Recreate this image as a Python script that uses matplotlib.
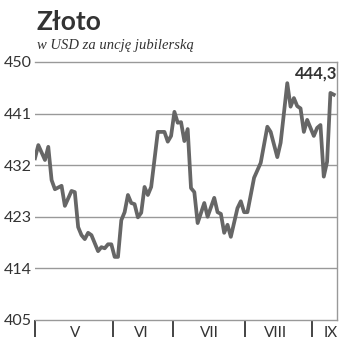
import matplotlib
matplotlib.use("Agg")
import matplotlib.pyplot as plt

# sesje od 1 maja (indeks dnia) i kurs złota w USD/uncję
days = [0, 1, 3, 4, 5, 6, 8, 9, 11, 12,
        13, 14, 15, 16, 17, 19, 20, 21, 22, 23,
        24, 25, 26, 27, 28, 29, 30, 31, 32, 33,
        34, 35, 37, 39, 40, 41, 42, 43, 44, 45,
        46, 47, 48, 49, 51, 52, 54, 55, 56, 57,
        58, 59, 61, 62, 63, 64, 66, 68, 70, 71,
        73, 74, 76, 77, 78, 79, 80, 81, 82, 84,
        85, 86, 87, 88, 89, 90]
price = [433.2, 435.5, 432.9, 435.2, 429.4, 427.8, 428.4, 424.9, 427.5, 427.3,
         421.2, 419.8, 419.1, 420.2, 419.8, 417.0, 417.7, 417.5, 418.2, 418.2,
         416.0, 416.0, 422.4, 423.8, 426.8, 425.4, 425.2, 422.9, 423.7, 428.2,
         426.8, 428.2, 437.8, 437.8, 436.1, 437.1, 441.3, 439.4, 439.5, 436.2,
         438.3, 428.0, 427.3, 421.9, 425.4, 423.0, 426.3, 423.8, 423.5, 420.2,
         421.6, 419.5, 424.5, 425.7, 423.8, 423.8, 429.8, 432.4, 438.7, 437.8,
         433.4, 435.9, 446.3, 442.2, 443.7, 442.3, 441.9, 437.8, 439.9, 437.1,
         438.5, 439.0, 430.0, 432.6, 444.6, 444.3]

yticks = [405, 414, 423, 432, 441, 450]
month_starts = [0, 23.5, 41.6, 63.3, 83.4]
month_mid = [12, 32, 52.4, 72.6, 89]
month_labels = ["V", "VI", "VII", "VIII", "IX"]
last_label = "444,3"

plt.rcParams['font.family'] = ['Lato', 'DejaVu Sans']

fig = plt.figure(figsize=(3.5, 3.52), dpi=100)
ax = fig.add_axes([0.1, 0.091, 0.863, 0.733])

ax.plot(days, price, color="#666666", lw=2.7, solid_joinstyle="round", zorder=3)

ax.set_xlim(0, 91)
ax.set_ylim(405, 450)
ax.set_yticks(yticks)
ax.set_yticklabels([str(v) for v in yticks], fontsize=11.5, color="#333333")
ax.tick_params(axis="y", length=0, pad=2)
for v in yticks[1:-1]:
    ax.axhline(v, color="#999999", lw=1.0, zorder=1)

ax.set_xticks(month_starts)
ax.set_xticklabels([])
ax.tick_params(axis="x", which="major", length=12, width=1.4, color="#444444")
ax.set_xticks(month_mid, minor=True)
ax.set_xticklabels(month_labels, minor=True, fontsize=11, color="#333333")
ax.tick_params(axis="x", which="minor", length=0, pad=4)

for s in ["left"]:
    ax.spines[s].set_visible(False)
for s in ["top", "right", "bottom"]:
    ax.spines[s].set_color("#999999")
    ax.spines[s].set_linewidth(1.0)

ax.text(1.0, 0.985, last_label, transform=ax.transAxes, ha="right", va="top",
        fontsize=12, fontweight="bold", color="#333333")

fig.text(0.105, 0.972, "Złoto", ha="left", va="top", fontsize=19,
         fontweight="bold", color="#333333")
fig.text(0.105, 0.872, "w USD za uncję jubilerską", ha="left", va="center",
         fontsize=10.5, style="italic", family="Liberation Serif", color="#333333")

fig.savefig("out.png", dpi=100)
